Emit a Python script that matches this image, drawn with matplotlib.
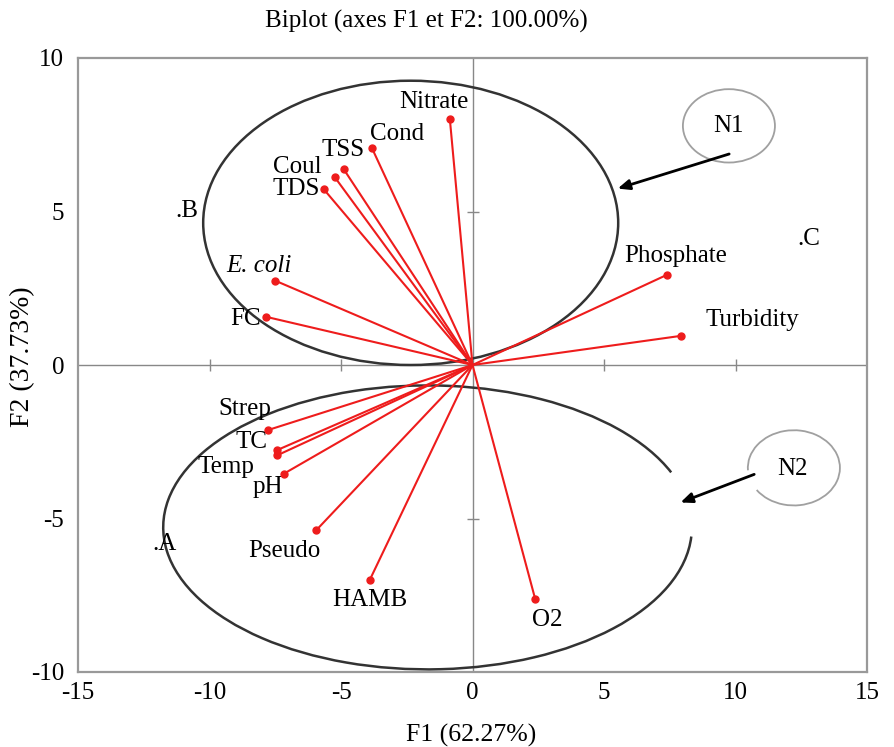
import matplotlib
matplotlib.use("Agg")
import matplotlib.pyplot as plt
from matplotlib.patches import Ellipse, Arc

plt.rcParams['font.family'] = ['Liberation Serif', 'DejaVu Serif']

# variable loadings on F1 / F2
variables = ['Nitrate', 'Cond', 'TSS', 'Coul', 'TDS', 'E. coli', 'FC', 'Phosphate',
             'Turbidity', 'Strep', 'TC', 'Temp', 'pH', 'Pseudo', 'HAMB', 'O2']
f1 = [-0.86, -3.82, -4.89, -5.23, -5.65, -7.51, -7.85, 7.40,
      7.93, -7.78, -7.45, -7.42, -7.17, -5.95, -3.90, 2.38]
f2 = [8.00, 7.06, 6.37, 6.11, 5.72, 2.75, 1.57, 2.94,
      0.95, -2.12, -2.78, -2.94, -3.54, -5.39, -6.99, -7.61]

# observations (sites)
sites = ['B', 'C', 'A']
site_f1 = [-10.86, 12.79, -11.73]
site_f2 = [5.03, 4.12, -5.82]

# label offsets in pixels (dx, dy) relative to each point
offsets = [(-16, 17), (25, 14), (-1, 19), (-38, 10), (-28, 0), (-16, 15), (-21, -2),
           (9, 19), (71, 16), (-23, 21), (-25, 8), (-51, -12), (-16, -13),
           (-32, -21), (0, -20), (12, -21)]

FS = 18

fig = plt.figure(figsize=(8.94, 7.47), dpi=100)
ax = fig.add_axes([78/894, 1-672/747, (867-78)/894, (672-58)/747])
ax.set_xlim(-15, 15)
ax.set_ylim(-10, 10)

for s in ax.spines.values():
    s.set_color('#999999')
    s.set_linewidth(1.6)

ax.axhline(0, color='#888888', lw=1.0, zorder=1)
ax.axvline(0, color='#888888', lw=1.0, zorder=1)
# small ticks on the zero lines
ax.plot([-10, -5, 5, 10], [0, 0, 0, 0], ls='none', marker='|', ms=8, color='#888888', mew=1)
ax.plot([0, 0], [-5, 5], ls='none', marker='_', ms=8, color='#888888', mew=1)

ax.set_xticks([-15, -10, -5, 0, 5, 10, 15])
ax.set_yticks([-10, -5, 0, 5, 10])
ax.set_xticklabels(['-15', '-10', '-5', '0', '5', '10', '15'])
ax.set_yticklabels(['-10', '-5', '0', '5', '10'])
ax.tick_params(length=0, labelsize=FS, pad=7)
ax.tick_params(axis='y', pad=10)

# group ellipses
ax.add_patch(Ellipse((-2.35, 4.63), 15.78, 9.26, fill=False, ec='#333333', lw=1.8, zorder=2))
ax.add_patch(Arc((-1.71, -5.29), 20.1, 9.25, theta1=10.95, theta2=358.3,
                 ec='#333333', lw=1.8, zorder=2))
ax.add_patch(Ellipse((9.75, 7.79), 3.50, 2.39, fill=False, ec='#a0a0a0', lw=1.3, zorder=2))
ax.add_patch(Arc((12.22, -3.35), 3.50, 2.45, theta1=207, theta2=542.6,
                 ec='#a0a0a0', lw=1.3, zorder=2))
ax.text(9.75, 7.79, 'N1', ha='center', va='center', fontsize=FS)
ax.text(12.17, -3.40, 'N2', ha='center', va='center', fontsize=FS)
ax.annotate('', xy=(5.42, 5.72), xytext=(9.86, 6.90),
            arrowprops=dict(arrowstyle='-|>,head_length=0.7,head_width=0.3', color='black', lw=2))
ax.annotate('', xy=(7.81, -4.51), xytext=(10.81, -3.53),
            arrowprops=dict(arrowstyle='-|>,head_length=0.7,head_width=0.3', color='black', lw=2))

# loading vectors
for name, x, y, (dx, dy) in zip(variables, f1, f2, offsets):
    ax.plot([0, x], [0, y], color='#ee1c1c', lw=1.5, zorder=3)
    ax.plot(x, y, 'o', color='#ee1c1c', ms=5, zorder=4)
    style = 'italic' if name == 'E. coli' else 'normal'
    ax.annotate(name, (x, y), xytext=(dx, dy), textcoords='offset pixels',
                ha='center', va='center', fontsize=FS, fontstyle=style)

for name, x, y in zip(sites, site_f1, site_f2):
    ax.text(x, y, '.' + name, ha='center', va='center', fontsize=FS)

fig.text(426/894, 1-21/747, 'Biplot (axes F1 et F2: 100.00%)', ha='center', va='center', fontsize=18)
fig.text(471/894, 1-735/747, 'F1 (62.27%)', ha='center', va='center', fontsize=18.5)
fig.text(23/894, 1-357/747, 'F2 (37.73%)', ha='center', va='center', fontsize=20, rotation=90)

fig.savefig('out.png', dpi=100)
